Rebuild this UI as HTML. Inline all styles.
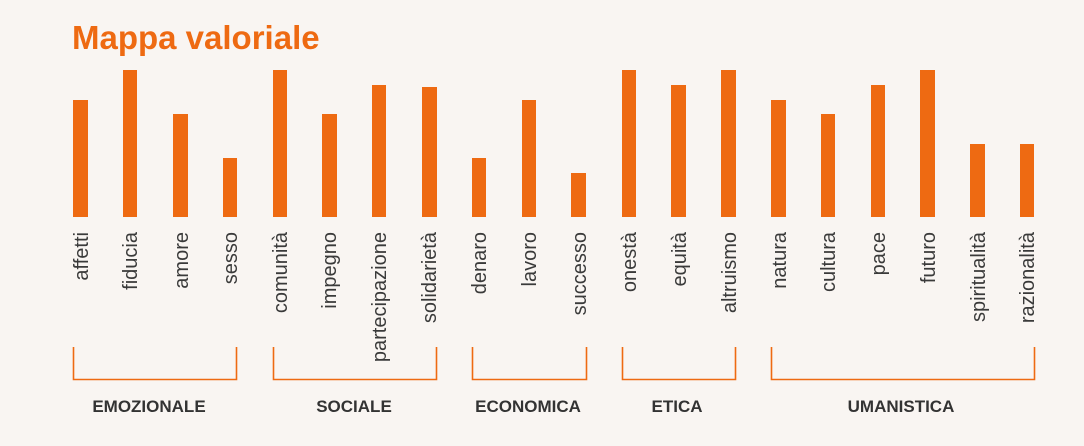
<!DOCTYPE html>
<html><head><meta charset="utf-8"><style>
html,body{margin:0;padding:0;background:#f9f5f2;}
svg{display:block;}
</style></head><body>
<svg width="1084" height="446" xmlns="http://www.w3.org/2000/svg" font-family="Liberation Sans, sans-serif">
<rect width="1084" height="446" fill="#f9f5f2"/>
<text x="72" y="49" font-size="33" font-weight="bold" fill="#ee6a12">Mappa valoriale</text>
<g fill="#ee6a12">
<rect x="73" y="100" width="15" height="117"/>
<rect x="123" y="70" width="14" height="147"/>
<rect x="173" y="114" width="15" height="103"/>
<rect x="223" y="158" width="14" height="59"/>
<rect x="273" y="70" width="14" height="147"/>
<rect x="322" y="114" width="15" height="103"/>
<rect x="372" y="85" width="14" height="132"/>
<rect x="422" y="87" width="15" height="130"/>
<rect x="472" y="158" width="14" height="59"/>
<rect x="522" y="100" width="14" height="117"/>
<rect x="571" y="173" width="15" height="44"/>
<rect x="622" y="70" width="14" height="147"/>
<rect x="671" y="85" width="15" height="132"/>
<rect x="721" y="70" width="15" height="147"/>
<rect x="771" y="100" width="15" height="117"/>
<rect x="821" y="114" width="14" height="103"/>
<rect x="871" y="85" width="14" height="132"/>
<rect x="920" y="70" width="15" height="147"/>
<rect x="970" y="144" width="15" height="73"/>
<rect x="1020" y="144" width="14" height="73"/>
</g>
<g font-size="20" fill="#3a3a3a" text-anchor="end">
<text transform="translate(88,232) rotate(-90)">affetti</text>
<text transform="translate(137,232) rotate(-90)">fiducia</text>
<text transform="translate(188,232) rotate(-90)">amore</text>
<text transform="translate(237,232) rotate(-90)">sesso</text>
<text transform="translate(287,232) rotate(-90)">comunità</text>
<text transform="translate(336,232) rotate(-90)">impegno</text>
<text transform="translate(386,232) rotate(-90)">partecipazione</text>
<text transform="translate(436,232) rotate(-90)">solidarietà</text>
<text transform="translate(486,232) rotate(-90)">denaro</text>
<text transform="translate(536,232) rotate(-90)">lavoro</text>
<text transform="translate(586,232) rotate(-90)">successo</text>
<text transform="translate(636,232) rotate(-90)">onestà</text>
<text transform="translate(686,232) rotate(-90)">equità</text>
<text transform="translate(736,232) rotate(-90)">altruismo</text>
<text transform="translate(786,232) rotate(-90)">natura</text>
<text transform="translate(835,232) rotate(-90)">cultura</text>
<text transform="translate(885,232) rotate(-90)">pace</text>
<text transform="translate(935,232) rotate(-90)">futuro</text>
<text transform="translate(985,232) rotate(-90)">spiritualità</text>
<text transform="translate(1034,232) rotate(-90)">razionalità</text>
</g>
<g fill="none" stroke="#ee6a12" stroke-width="1.6">
<path d="M73.5 347 V379.5 H236.5 V347"/>
<path d="M273.5 347 V379.5 H436.5 V347"/>
<path d="M472.5 347 V379.5 H586.5 V347"/>
<path d="M622.5 347 V379.5 H735.5 V347"/>
<path d="M771.5 347 V379.5 H1034.5 V347"/>
</g>
<g font-size="17" font-weight="bold" fill="#333" text-anchor="middle">
<text x="149" y="412">EMOZIONALE</text>
<text x="354" y="412">SOCIALE</text>
<text x="528" y="412">ECONOMICA</text>
<text x="677" y="412">ETICA</text>
<text x="901" y="412">UMANISTICA</text>
</g>
</svg>
</body></html>
